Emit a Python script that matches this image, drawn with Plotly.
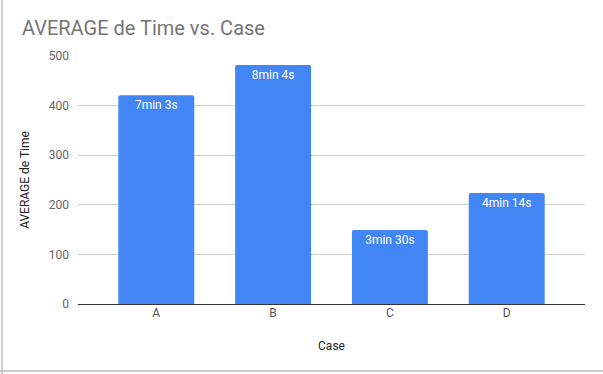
import plotly.graph_objects as go

categories = ["A", "B", "C", "D"]
values = [421, 482, 149, 224]
labels = ["7min 3s", "8min 4s", "3min 30s", "4min 14s"]
y_ticks = [0, 100, 200, 300, 400, 500]

W, H = 603, 374
ml, mr, mt, mb = 78, 18, 56, 70
pw, ph = W - ml - mr, H - mt - mb

fig = go.Figure(go.Bar(
    x=categories, y=values, text=labels,
    textposition="inside", insidetextanchor="end",
    textfont=dict(color="white", size=12, family="Roboto"),
    marker=dict(color="#4285F4", cornerradius=2, line=dict(width=0)),
    cliponaxis=False,
))

fig.update_layout(
    width=W, height=H,
    margin=dict(l=ml, r=mr, t=mt, b=mb),
    paper_bgcolor="white", plot_bgcolor="white",
    font=dict(family="Roboto", color="#444"),
    title=dict(text="AVERAGE de Time vs. Case", x=22 / W, xanchor="left",
               y=1 - 28 / H, yanchor="middle",
               font=dict(size=20, color="#757575", family="Roboto")),
    bargap=0.35,
    showlegend=False,
)
fig.update_xaxes(
    range=[-0.67, 3.67], showgrid=False, showline=False, ticks="",
    tickfont=dict(size=12, color="#555"),
    title=dict(text="Case", font=dict(size=12, color="#222"), standoff=22),
)
fig.update_yaxes(
    range=[0, 500], tickvals=y_ticks, showgrid=True, gridcolor="#cccccc",
    gridwidth=1, zeroline=True, zerolinecolor="#333333", zerolinewidth=1.3,
    showline=False, ticks="", tickfont=dict(size=12, color="#666"),
    ticklabelstandoff=8,
    title=dict(text="AVERAGE de Time", font=dict(size=12, color="#222"), standoff=16),
)
# screenshot frame lines (left border and bottom border)
fig.add_shape(type="line", xref="paper", yref="paper",
              x0=(2 - ml) / pw, x1=(2 - ml) / pw, y0=(H - mt) / ph, y1=(mt + ph - H) / ph,
              line=dict(color="#9e9e9e", width=1))
fig.add_shape(type="line", xref="paper", yref="paper",
              x0=-ml / pw, x1=(W - ml) / pw, y0=(mt + ph - 371) / ph, y1=(mt + ph - 371) / ph,
              line=dict(color="#9e9e9e", width=1))

fig.write_html("out.html", config={"displayModeBar": False},
               post_script="document.body.style.margin='0';document.body.style.overflow='hidden';")
